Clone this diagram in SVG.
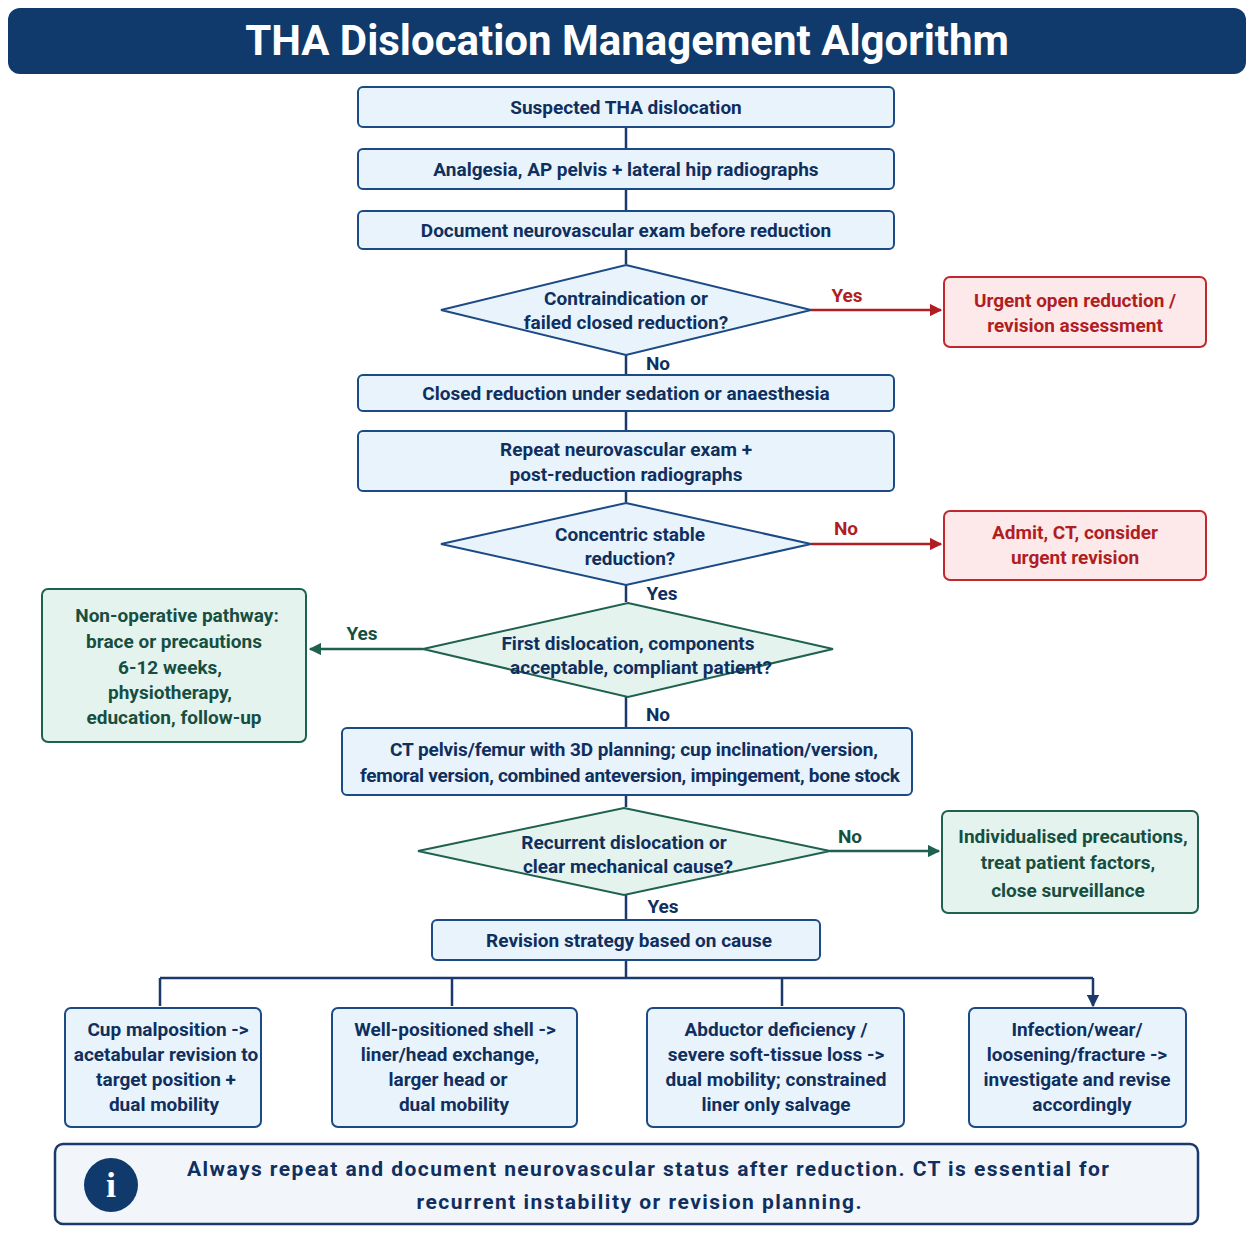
<svg xmlns="http://www.w3.org/2000/svg" width="1254" height="1254" viewBox="0 0 1254 1254">
<defs>
<style>
text{font-family:Roboto,"Liberation Sans",sans-serif;font-weight:bold;text-anchor:middle;font-size:19px}
.b{fill:#e9f3fc;stroke:#1b4a85;stroke-width:2}
.r{fill:#fde9e9;stroke:#c0282d;stroke-width:2}
.g{fill:#e5f3ef;stroke:#1f6150;stroke-width:2}
.tb{fill:#0f2f5e}.tr{fill:#b01e23}.tg{fill:#164f40}
.cb{stroke:#1b3a6b;stroke-width:2.5;fill:none}
.cr{stroke:#b01e23;stroke-width:2.5;fill:none}
.cg{stroke:#1f6150;stroke-width:2.5;fill:none}
</style>
<marker id="ab" viewBox="0 0 10 10" refX="9" refY="5" markerWidth="5" markerHeight="5" orient="auto"><path d="M0,0L10,5L0,10z" fill="#1b3a6b"/></marker>
<marker id="ar" viewBox="0 0 10 10" refX="9" refY="5" markerWidth="5" markerHeight="5" orient="auto"><path d="M0,0L10,5L0,10z" fill="#b01e23"/></marker>
<marker id="ag" viewBox="0 0 10 10" refX="9" refY="5" markerWidth="5" markerHeight="5" orient="auto"><path d="M0,0L10,5L0,10z" fill="#1f6150"/></marker>
</defs>
<rect width="1254" height="1254" fill="#fff"/>
<g id="title"><rect x="8" y="8" width="1238" height="66" rx="12" fill="#0f3a6b"/><text x="627" y="55" style="font-size:42px;fill:#fff">THA Dislocation Management Algorithm</text></g>
<g id="connectors">
<path class="cb" marker-end="url(#ab)" d="M626 127V148M626 189V210M626 249V264M626 355V374M626 411V430M626 491V502M626 585V602M626 697V727M626 795V807M626 895V919M626 960V978M160 978H1093M160 978V1006M452 978V1006M782 978V1006M1093 978V1006"/>
<path class="cr" marker-end="url(#ar)" d="M811 310H941"/>
<path class="cr" marker-end="url(#ar)" d="M811 544H941"/>
<path class="cg" marker-end="url(#ag)" d="M423 649H310"/>
<path class="cg" marker-end="url(#ag)" d="M830 851H939"/>
<text x="847" y="302" class="tr">Yes</text>
<text x="658" y="370" class="tb">No</text>
<text x="846" y="535" class="tr">No</text>
<text x="662" y="600" class="tb">Yes</text>
<text x="362" y="640" class="tg">Yes</text>
<text x="658" y="721" class="tb">No</text>
<text x="850" y="843" class="tg">No</text>
<text x="663" y="913" class="tb">Yes</text>
</g>
<g id="n1"><rect class="b" x="358" y="87" width="536" height="40" rx="5"/><text x="626" y="114" class="tb">Suspected THA dislocation</text></g>
<g id="n2"><rect class="b" x="358" y="149" width="536" height="40" rx="5"/><text x="626" y="176" class="tb">Analgesia, AP pelvis + lateral hip radiographs</text></g>
<g id="n3"><rect class="b" x="358" y="211" width="536" height="38" rx="5"/><text x="626" y="237" class="tb">Document neurovascular exam before reduction</text></g>
<g id="d1"><path class="b" d="M626 265L811 310L626 355L441 310z"/><text x="626" y="305" class="tb">Contraindication or</text><text x="626" y="329" class="tb">failed closed reduction?</text></g>
<g id="r1"><rect class="r" x="944" y="277" width="262" height="70" rx="6"/><text x="1075" y="307" class="tr">Urgent open reduction /</text><text x="1075" y="332" class="tr">revision assessment</text></g>
<g id="n4"><rect class="b" x="358" y="375" width="536" height="36" rx="5"/><text x="626" y="400" class="tb">Closed reduction under sedation or anaesthesia</text></g>
<g id="n5"><rect class="b" x="358" y="431" width="536" height="60" rx="5"/><text x="626" y="456" class="tb">Repeat neurovascular exam +</text><text x="626" y="481" class="tb">post-reduction radiographs</text></g>
<g id="d2"><path class="b" d="M626 503L811 544L626 585L441 544z"/><text x="630" y="541" class="tb">Concentric stable</text><text x="630" y="565" class="tb">reduction?</text></g>
<g id="r2"><rect class="r" x="944" y="511" width="262" height="69" rx="6"/><text x="1075" y="539" class="tr">Admit, CT, consider</text><text x="1075" y="564" class="tr">urgent revision</text></g>
<g id="d3"><path class="g" d="M628 603L833 649L628 697L423 649z"/><text x="628" y="650" class="tb">First dislocation, components</text><text x="641" y="674" class="tb">acceptable, compliant patient?</text></g>
<g id="g1"><rect class="g" x="42" y="589" width="264" height="153" rx="6"/><text x="177" y="622" class="tg">Non-operative pathway:</text><text x="174" y="648" class="tg">brace or precautions</text><text x="170" y="674" class="tg">6-12 weeks,</text><text x="170" y="699" class="tg">physiotherapy,</text><text x="174" y="724" class="tg">education, follow-up</text></g>
<g id="n6"><rect class="b" x="342" y="728" width="570" height="67" rx="5"/><text x="634" y="756" class="tb" textLength="488">CT pelvis/femur with 3D planning; cup inclination/version,</text><text x="630" y="782" class="tb" textLength="540">femoral version, combined anteversion, impingement, bone stock</text></g>
<g id="d4"><path class="g" d="M624 808L830 851L624 895L418 851z"/><text x="624" y="849" class="tb">Recurrent dislocation or</text><text x="628" y="873" class="tb">clear mechanical cause?</text></g>
<g id="g2"><rect class="g" x="942" y="811" width="256" height="102" rx="6"/><text x="1073" y="843" class="tg">Individualised precautions,</text><text x="1068" y="869" class="tg">treat patient factors,</text><text x="1068" y="897" class="tg">close surveillance</text></g>
<g id="n7"><rect class="b" x="432" y="920" width="388" height="40" rx="5"/><text x="629" y="947" class="tb">Revision strategy based on cause</text></g>
<g id="b1"><rect class="b" x="65" y="1008" width="196" height="119" rx="6"/><text x="168" y="1036" class="tb">Cup malposition -&gt;</text><text x="166" y="1061" class="tb">acetabular revision to</text><text x="166" y="1086" class="tb">target position +</text><text x="164" y="1111" class="tb">dual mobility</text></g>
<g id="b2"><rect class="b" x="332" y="1008" width="245" height="119" rx="6"/><text x="455" y="1036" class="tb">Well-positioned shell -&gt;</text><text x="450" y="1061" class="tb">liner/head exchange,</text><text x="448" y="1086" class="tb">larger head or</text><text x="454" y="1111" class="tb">dual mobility</text></g>
<g id="b3"><rect class="b" x="647" y="1008" width="257" height="119" rx="6"/><text x="776" y="1036" class="tb">Abductor deficiency /</text><text x="776" y="1061" class="tb">severe soft-tissue loss -&gt;</text><text x="776" y="1086" class="tb">dual mobility; constrained</text><text x="776" y="1111" class="tb">liner only salvage</text></g>
<g id="b4"><rect class="b" x="969" y="1008" width="217" height="119" rx="6"/><text x="1077" y="1036" class="tb">Infection/wear/</text><text x="1077" y="1061" class="tb">loosening/fracture -&gt;</text><text x="1077" y="1086" class="tb">investigate and revise</text><text x="1082" y="1111" class="tb">accordingly</text></g>
<g id="info"><rect x="55" y="1144" width="1143" height="80" rx="8" fill="#f2f6fb" stroke="#1b3a6b" stroke-width="2.5"/><circle cx="111" cy="1185" r="27" fill="#0f3a6b"/><text x="111" y="1197" style="font-family:'Liberation Serif',serif;font-size:36px;fill:#fff">i</text><text x="648" y="1176" class="tb" style="font-size:21px" textLength="922">Always repeat and document neurovascular status after reduction. CT is essential for</text><text x="639" y="1209" class="tb" style="font-size:21px" textLength="445">recurrent instability or revision planning.</text></g>
</svg>
